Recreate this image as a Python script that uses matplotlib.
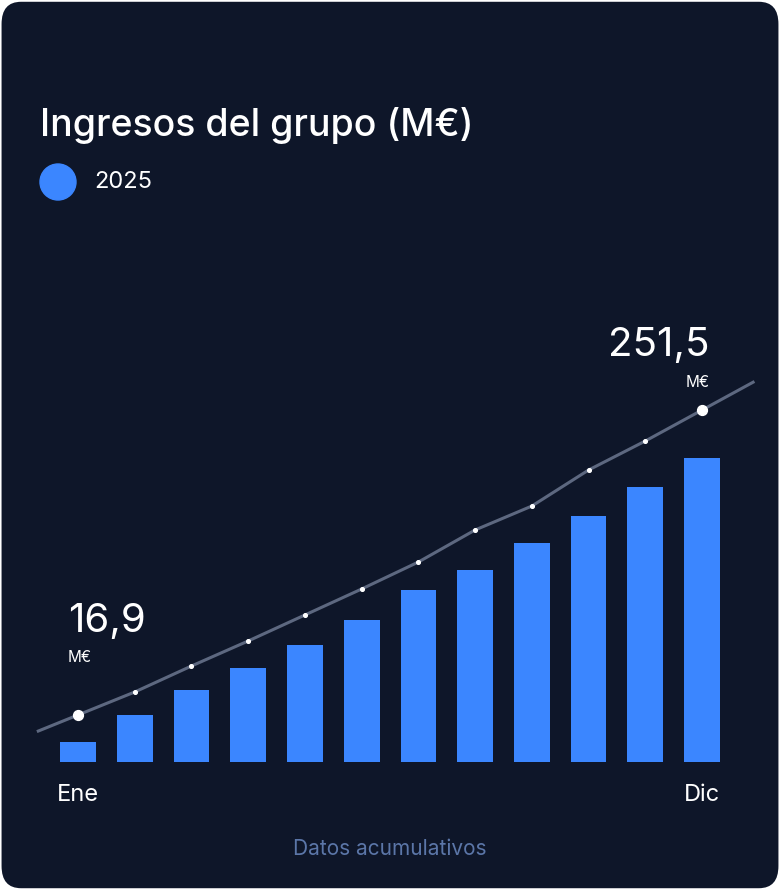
import matplotlib
matplotlib.use("Agg")
import matplotlib.pyplot as plt
from matplotlib.patches import FancyBboxPatch, Ellipse

months = ["Ene","Feb","Mar","Abr","May","Jun","Jul","Ago","Sep","Oct","Nov","Dic"]
revenue = [16.9, 38.9, 59.6, 77.8, 96.8, 117.5, 142.3, 158.8, 181.1, 203.5, 227.5, 251.5]
trend = [38.9, 57.9, 79.4, 100.1, 121.6, 143.1, 165.4, 191.9, 211.7, 241.5, 265.5, 291.1]
series_name = "2025"

plt.rcParams['font.family'] = ['Inter', 'DejaVu Sans']
fig = plt.figure(figsize=(7.8, 8.9), dpi=100)
fig.patch.set_facecolor("white")
bg = "#0e1629"
ax = fig.add_axes([0, 0, 1, 1])
ax.set_facecolor("none")
ax.axis("off")
ax.add_patch(FancyBboxPatch((0.002, 0.002), 0.996, 0.996, boxstyle="round,pad=0,rounding_size=0.025",
                            transform=fig.transFigure, facecolor=bg, edgecolor="none", zorder=0))
step = 56.73
ax.set_xlim(-78/step, (780-78)/step)
ax.set_ylim((762-890)/1.209, 762/1.209)
x = list(range(len(months)))
blue = "#3b86ff"
ax.bar(x, revenue, width=0.63, color=blue, zorder=2)
s0 = (trend[1]-trend[0]); s1 = (trend[-1]-trend[-2])
ax.plot([-0.7] + x + [11.9], [trend[0]-0.7*s0] + trend + [trend[-1]+0.9*s1],
        color="#5d6880", lw=2.2, zorder=3)
ax.scatter(x[1:-1], trend[1:-1], s=7, color="white", zorder=4)
ax.scatter([x[0], x[-1]], [trend[0], trend[-1]], s=50, color="white", zorder=4)

def lab(v):
    return f"{v:.1f}".replace(".", ",")
ax.text(x[0]-0.18, trend[0]+62, lab(revenue[0]), color="white", fontsize=29, ha="left", va="bottom", zorder=5)
ax.text(x[0]-0.18, trend[0]+41, "M€", color="white", fontsize=11, ha="left", va="bottom", zorder=5)
ax.text(x[-1]+0.13, trend[-1]+38, lab(revenue[-1]), color="white", fontsize=29, ha="right", va="bottom", zorder=5)
ax.text(x[-1]+0.13, trend[-1]+17, "M€", color="white", fontsize=11, ha="right", va="bottom", zorder=5)

fig.text(78/780, 1-795/890, months[0], color="white", fontsize=17, ha="center", va="center")
fig.text(702/780, 1-795/890, months[-1], color="white", fontsize=17, ha="center", va="center")
fig.text(40/780, 1-126/890, "Ingresos del grupo (M€)", color="white", fontsize=27, fontweight="medium", ha="left", va="center")
fig.patches.append(Ellipse((58/780, 1-182/890), 36/780, 36/890, transform=fig.transFigure, color=blue, zorder=5))
fig.text(94/780, 1-182/890, series_name, color="white", fontsize=17, ha="left", va="center")
fig.text(0.5, 1-849/890, "Datos acumulativos", color="#5b76a8", fontsize=15, ha="center", va="center")
fig.savefig("out.png", dpi=100, facecolor="white")
